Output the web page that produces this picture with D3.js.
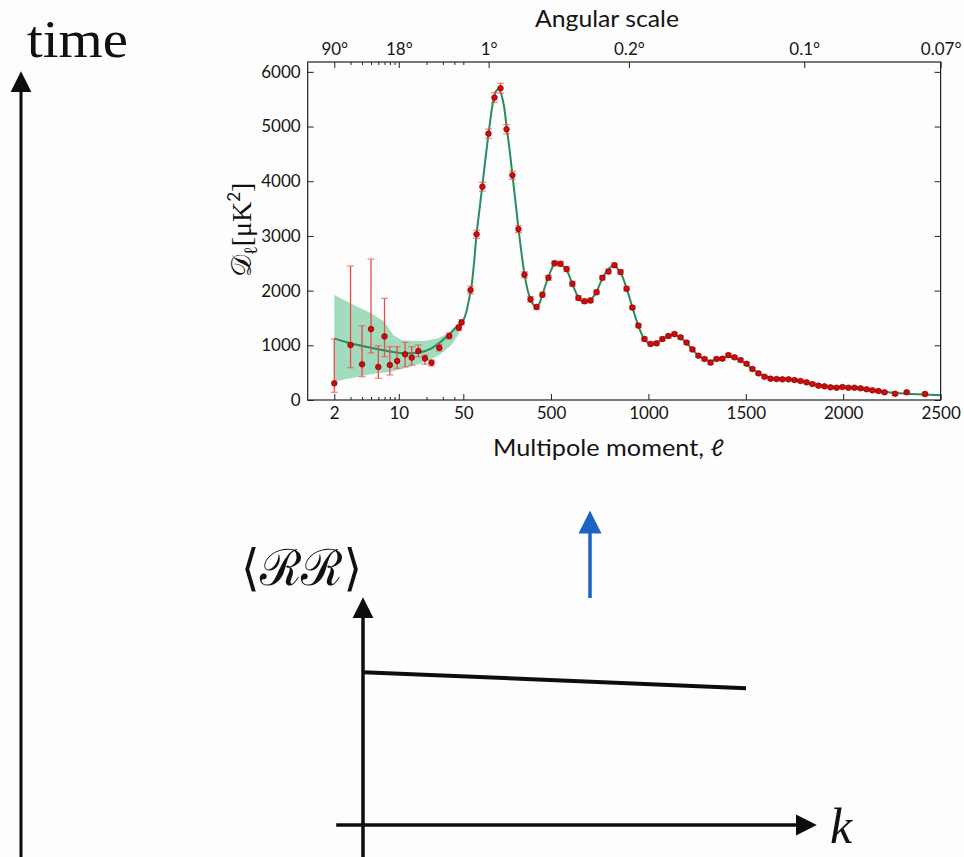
<!DOCTYPE html>
<html>
<head>
<meta charset="utf-8">
<script src="https://cdnjs.cloudflare.com/ajax/libs/d3/7.8.5/d3.min.js"></script>
<style>
    body { margin: 0; background: #fcfdfc; }
    svg { display: block; }
    .plot text { font-family: Lato, "Noto Sans", sans-serif; fill: #151515; }
    .tex { font-family: "Liberation Serif", "DejaVu Serif", serif; fill: #111; }
</style>
</head>
<body>
<script>
// ---------------------------------------------------------------------
// Data

// low multipoles, log part of the axis
var lowEll   = [2, 3, 4, 5, 6, 7, 8, 9.6, 11.7, 13.8, 16.3, 19.2, 22.6, 27.5, 35.2, 44.8, 47.9];
var lowD     = [305, 1005, 652, 1297, 603, 1163, 640, 713, 835, 774, 896, 761, 682, 956, 1170, 1322, 1420];
var lowErrHi = [1115, 2450, 1358, 2577, 993, 1858, 975, 975, 1054, 975, 1005, 822, 731, 1018, 1225, 1375, 1470];
var lowErrLo = [140, 590, 426, 860, 396, 791, 457, 579, 609, 640, 791, 652, 621, 896, 1115, 1270, 1370];

// binned high multipoles, linear part of the axis
var highEll = [87, 118, 148, 179, 210, 241, 272, 302, 333, 364,
	       395, 426, 456, 487, 518, 549, 580, 610, 641, 672,
	       703, 734, 764, 795, 826, 857, 888, 918, 949, 980,
	       1011, 1042, 1072, 1103, 1134, 1165, 1196, 1226, 1257, 1288,
	       1319, 1350, 1380, 1411, 1442, 1473, 1504, 1534, 1565, 1596,
	       1627, 1658, 1688, 1719, 1750, 1781, 1812, 1842, 1873, 1904,
	       1935, 1966, 1996, 2027, 2058, 2089, 2120, 2150, 2181, 2212,
	       2266, 2326, 2420];
var highD = [2010, 3030, 3900, 4870, 5530, 5700, 4950, 4110, 3125, 2290,
	     1840, 1700, 1925, 2235, 2500, 2490, 2395, 2125, 1865, 1805,
	     1820, 1970, 2235, 2350, 2465, 2340, 2035, 1690, 1360, 1115,
	     1025, 1036, 1115, 1170, 1205, 1146, 1050, 925, 810, 750,
	     682, 750, 755, 820, 780, 730, 663, 567, 487, 426,
	     390, 384, 378, 378, 365, 347, 323, 292, 262, 250,
	     232, 225, 238, 225, 225, 214, 196, 177, 164, 141,
	     115, 141, 110];
var highErr = [70, 75, 80, 85, 90, 90, 85, 75, 65, 55,
	       50, 45, 45, 45, 45, 45, 45, 45, 40, 40,
	       40, 40, 40, 40, 40, 40, 40, 35, 35, 35,
	       35, 35, 35, 35, 35, 30, 30, 30, 30, 30,
	       30, 30, 30, 30, 30, 30, 30, 30, 25, 25,
	       25, 25, 25, 25, 25, 25, 25, 25, 25, 25,
	       25, 25, 25, 25, 25, 25, 25, 25, 25, 25,
	       30, 30, 35];

// best fit model (green line)
var modelEll = [2, 3, 5, 8.35, 11.6, 16.3, 22.6, 31.6, 44, 50,
		66, 80, 92, 105, 118, 133, 148, 165, 180, 200,
		215, 230, 245, 260, 272, 290, 302, 320, 333, 350,
		364, 380, 395, 410, 426, 440, 456, 470, 487, 505,
		525, 545, 565, 580, 595, 610, 625, 641, 656, 672,
		690, 703, 718, 734, 750, 764, 780, 800, 815, 830,
		845, 857, 870, 888, 905, 918, 935, 949, 965, 980,
		995, 1011, 1030, 1050, 1072, 1090, 1110, 1130, 1150, 1165,
		1180, 1196, 1215, 1235, 1257, 1275, 1295, 1315, 1335, 1355,
		1380, 1400, 1420, 1440, 1460, 1480, 1504, 1525, 1545, 1565,
		1585, 1605, 1630, 1655, 1680, 1705, 1730, 1755, 1780, 1805,
		1830, 1855, 1880, 1905, 1930, 1960, 1990, 2020, 2050, 2080,
		2110, 2140, 2170, 2200, 2240, 2290, 2350, 2420, 2500];
var modelD = [1127, 1036, 956, 883, 853, 865, 944, 1127, 1370, 1460,
	      1614, 1850, 2071, 2500, 3030, 3480, 3930, 4450, 4880, 5400,
	      5630, 5680, 5590, 5350, 5000, 4500, 4120, 3560, 3140, 2650,
	      2300, 2010, 1840, 1740, 1710, 1760, 1920, 2080, 2250, 2410,
	      2500, 2495, 2440, 2380, 2260, 2120, 1990, 1870, 1810, 1795,
	      1810, 1830, 1890, 1980, 2110, 2220, 2320, 2410, 2450, 2440,
	      2390, 2330, 2230, 2040, 1850, 1690, 1500, 1350, 1210, 1110,
	      1050, 1025, 1030, 1060, 1110, 1150, 1185, 1195, 1175, 1140,
	      1095, 1040, 970, 890, 815, 770, 735, 718, 725, 745,
	      775, 790, 790, 775, 745, 705, 650, 590, 540, 495,
	      455, 425, 400, 385, 378, 374, 370, 358, 342, 323,
	      303, 283, 266, 252, 241, 232, 228, 225, 220, 212,
	      200, 186, 170, 155, 137, 122, 111, 100, 88];

// cosmic variance band at low multipoles
var bandEll = [2, 3, 5, 7, 8.7, 10.7, 13, 19, 26.7, 37, 44, 50];
var bandHi  = [1919, 1767, 1584, 1431, 1188, 1096, 1085, 1078, 1127, 1249, 1330, 1470];
var bandLo  = [335, 396, 469, 505, 525, 565, 600, 688, 810, 1000, 1188, 1430];

// axes
var yTicks = [0, 1000, 2000, 3000, 4000, 5000, 6000];
var logTicks = [2, 10, 50];
var logMinor = [3, 4, 5, 6, 7, 8, 9, 20, 30, 40];
var linTicks = [500, 1000, 1500, 2000, 2500];
var angEll = [2, 10, 180, 900, 1800, 2500];
var angLabels = ["90\u00b0", "18\u00b0", "1\u00b0", "0.2\u00b0", "0.1\u00b0", "0.07\u00b0"];

// schematic primordial spectrum below
var rrK = [0, 1];
var rrVal = [0.67, 0.6];

// ---------------------------------------------------------------------
// Setup

var W = 964, H = 857;
var frame = { left: 307.7, right: 940.6, top: 62, bottom: 400 },
    split = 463.3;

var svg = d3.select("body").append("svg")
	.attr("width", W).attr("height", H);

var xLog = d3.scaleLog().domain([1.03, 50]).range([frame.left, split]),
    xLin = d3.scaleLinear().domain([50, 2500]).range([split, frame.right]),
    y = d3.scaleLinear().domain([0, 6180]).range([frame.bottom, frame.top]);

// hybrid log / linear multipole axis
function x(ell) {
    return ell <= 50 ? xLog(ell) : xLin(ell);
}

var plot = svg.append("g").attr("class", "plot");

// cosmic variance band
var band = bandEll.map(function(l, i) { return { l: l, hi: bandHi[i], lo: bandLo[i] }; });
plot.append("path")
    .datum(band)
    .attr("fill", "#a3dcbd")
    .attr("d", d3.area()
	  .x(function(d) { return x(d.l); })
	  .y0(function(d) { return y(d.lo); })
	  .y1(function(d) { return y(d.hi); })
	  .curve(d3.curveLinear));

// model line
var model = modelEll.map(function(l, i) { return { l: l, v: modelD[i] }; });
plot.append("path")
    .datum(model)
    .attr("fill", "none")
    .attr("stroke", "#2a8c5e")
    .attr("stroke-width", 2)
    .attr("d", d3.line()
	  .x(function(d) { return x(d.l); })
	  .y(function(d) { return y(d.v); })
	  .curve(d3.curveMonotoneX));

// data points, low and high together
var pts = lowEll.map(function(l, i) {
    return { l: l, v: lowD[i], hi: lowErrHi[i], lo: lowErrLo[i] };
}).concat(highEll.map(function(l, i) {
    return { l: l, v: highD[i], hi: highD[i] + highErr[i], lo: highD[i] - highErr[i] };
}));

var err = plot.append("g")
	.attr("stroke", "#ec4a4a")
	.attr("stroke-width", 1.3);
err.selectAll("line.bar").data(pts).enter().append("line")
    .attr("class", "bar")
    .attr("x1", function(d) { return x(d.l); })
    .attr("x2", function(d) { return x(d.l); })
    .attr("y1", function(d) { return y(d.lo); })
    .attr("y2", function(d) { return y(d.hi); });
["hi", "lo"].forEach(function(k) {
    err.selectAll("line.cap-" + k).data(pts).enter().append("line")
	.attr("class", "cap-" + k)
	.attr("stroke-opacity", 0.6)
	.attr("x1", function(d) { return x(d.l) - 3.5; })
	.attr("x2", function(d) { return x(d.l) + 3.5; })
	.attr("y1", function(d) { return y(d[k]); })
	.attr("y2", function(d) { return y(d[k]); });
});

plot.append("g").selectAll("circle").data(pts).enter().append("circle")
    .attr("cx", function(d) { return x(d.l); })
    .attr("cy", function(d) { return y(d.v); })
    .attr("r", 2.8)
    .attr("fill", "#d20a0a")
    .attr("stroke", "#7a0000")
    .attr("stroke-width", 0.7);

// frame
plot.append("rect")
    .attr("x", frame.left).attr("y", frame.top)
    .attr("width", frame.right - frame.left)
    .attr("height", frame.bottom - frame.top)
    .attr("fill", "none")
    .attr("stroke", "#222")
    .attr("stroke-width", 1.2);

// ---------------------------------------------------------------------
// Axes, ticks pointing inwards like matplotlib

function style_axis(g) {
    g.select(".domain").remove();
    g.selectAll("line").attr("stroke", "#222");
    g.selectAll("text").attr("font-family", null).attr("font-size", 17).attr("fill", "#151515");
}

var axisB = plot.append("g").attr("transform", "translate(0," + frame.bottom + ")");
axisB.append("g").call(d3.axisBottom(xLog).tickValues(logTicks).tickFormat(d3.format("d"))
		       .tickSizeInner(-6).tickSizeOuter(0).tickPadding(7)).call(style_axis);
axisB.append("g").call(d3.axisBottom(xLog).tickValues(logMinor).tickFormat("")
		       .tickSizeInner(-3).tickSizeOuter(0)).call(style_axis);
axisB.append("g").call(d3.axisBottom(xLin).tickValues(linTicks).tickFormat(d3.format("d"))
		       .tickSizeInner(-6).tickSizeOuter(0).tickPadding(7)).call(style_axis);

var axisT = plot.append("g").attr("transform", "translate(0," + frame.top + ")");
axisT.append("g").call(d3.axisTop(xLog).tickValues(angEll.slice(0, 2))
		       .tickFormat(function(d, i) { return angLabels[i]; })
		       .tickSizeInner(-6).tickSizeOuter(0).tickPadding(7)).call(style_axis);
axisT.append("g").call(d3.axisTop(xLog).tickValues(logMinor.concat([50])).tickFormat("")
		       .tickSizeInner(-3).tickSizeOuter(0)).call(style_axis);
axisT.append("g").call(d3.axisTop(xLin).tickValues(angEll.slice(2))
		       .tickFormat(function(d, i) { return angLabels[i + 2]; })
		       .tickSizeInner(-6).tickSizeOuter(0).tickPadding(7)).call(style_axis);

plot.append("g").attr("transform", "translate(" + frame.left + ",0)")
    .call(d3.axisLeft(y).tickValues(yTicks).tickFormat(d3.format("d"))
	  .tickSizeInner(-6).tickSizeOuter(0).tickPadding(7)).call(style_axis);
plot.append("g").attr("transform", "translate(" + frame.right + ",0)")
    .call(d3.axisRight(y).tickValues(yTicks).tickFormat("")
	  .tickSizeInner(-6).tickSizeOuter(0)).call(style_axis);

// axis titles
plot.append("text")
    .attr("x", 535).attr("y", 27)
    .attr("font-size", 23)
    .attr("textLength", 144)
    .attr("lengthAdjust", "spacingAndGlyphs")
    .text("Angular scale");
plot.append("text")
    .attr("x", 493).attr("y", 456)
    .attr("font-size", 23)
    .attr("textLength", 231)
    .attr("lengthAdjust", "spacingAndGlyphs")
    .text("Multipole moment, \u2113");

var ylab = plot.append("text")
	.attr("transform", "translate(251,230) rotate(-90)")
	.attr("text-anchor", "middle")
	.attr("font-size", 28);
ylab.append("tspan").attr("class", "tex").text("\ud835\udc9f");
ylab.append("tspan").attr("class", "tex").attr("font-size", 19).attr("dy", 6).text("\u2113");
ylab.append("tspan").attr("class", "tex").attr("dy", -6).text("[\u03bcK");
ylab.append("tspan").attr("font-size", 17).attr("dy", -11).text("2");
ylab.append("tspan").attr("class", "tex").attr("dy", 11).text("]");

// ---------------------------------------------------------------------
// Schematic: time arrow, primordial spectrum, blue arrow

var ink = "#0d0d0d";
svg.append("defs").call(function(defs) {
    [["head-k", ink, 21, 22], ["head-b", "#1d62c4", 23, 26]].forEach(function(m) {
	defs.append("marker")
	    .attr("id", m[0])
	    .attr("viewBox", "0 0 10 10")
	    .attr("refX", 2).attr("refY", 5)
	    .attr("markerUnits", "userSpaceOnUse")
	    .attr("markerWidth", m[2]).attr("markerHeight", m[3])
	    .attr("orient", "auto")
	    .append("path")
	    .attr("d", "M0,0 L10,5 L0,10 z")
	    .attr("fill", m[1]);
    });
});

// time axis
svg.append("line")
    .attr("x1", 21).attr("x2", 21)
    .attr("y1", H).attr("y2", 88)
    .attr("stroke", ink).attr("stroke-width", 3)
    .attr("marker-end", "url(#head-k)");
svg.append("text")
    .attr("class", "tex")
    .attr("x", 27).attr("y", 57)
    .attr("font-size", 52)
    .attr("textLength", 101)
    .attr("lengthAdjust", "spacingAndGlyphs")
    .text("time");

var kx = d3.scaleLinear().domain([0, 1]).range([363, 746]),
    ry = d3.scaleLinear().domain([0, 1]).range([825, 597]);

svg.append("line")
    .attr("x1", kx(0)).attr("x2", kx(0))
    .attr("y1", H).attr("y2", ry(1) + 17)
    .attr("stroke", ink).attr("stroke-width", 3.5)
    .attr("marker-end", "url(#head-k)");
svg.append("line")
    .attr("x1", kx(-0.07)).attr("x2", 800)
    .attr("y1", ry(0)).attr("y2", ry(0))
    .attr("stroke", ink).attr("stroke-width", 3.5)
    .attr("marker-end", "url(#head-k)");

var rr = rrK.map(function(k, i) { return [kx(k), ry(rrVal[i])]; });
svg.append("path")
    .attr("d", d3.line()(rr))
    .attr("fill", "none")
    .attr("stroke", ink)
    .attr("stroke-width", 4);

svg.append("text")
    .attr("class", "tex")
    .attr("x", 241).attr("y", 585)
    .attr("font-size", 50)
    .attr("textLength", 121)
    .attr("lengthAdjust", "spacingAndGlyphs")
    .text("\u27e8\u211b\u211b\u27e9");
svg.append("text")
    .attr("class", "tex")
    .attr("x", 830).attr("y", 843)
    .attr("font-size", 50)
    .attr("font-style", "italic")
    .text("k");

// blue arrow from the primordial spectrum up to the CMB
svg.append("line")
    .attr("x1", 590).attr("x2", 590)
    .attr("y1", 598).attr("y2", 529)
    .attr("stroke", "#1d62c4").attr("stroke-width", 3.5)
    .attr("marker-end", "url(#head-b)");
</script>
</body>
</html>
